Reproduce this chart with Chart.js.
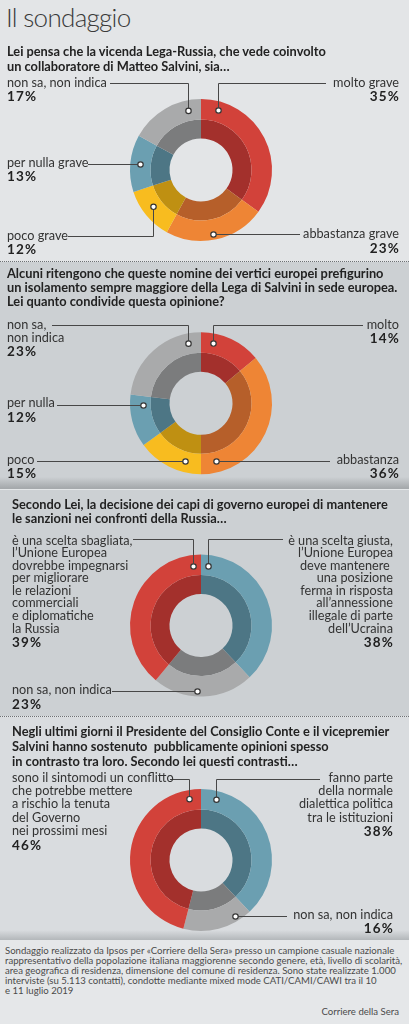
<!DOCTYPE html>
<html>
<head>
<meta charset="utf-8">
<script src="https://cdn.jsdelivr.net/npm/chart.js@4.4.1/dist/chart.umd.min.js"></script>
<style>
  body { margin: 0; width: 409px; height: 1024px; position: relative; overflow: hidden; background: #e4e6e8; font-family: Lato, "Noto Sans", sans-serif; color: #2a2a2a; }
  .bg { position: absolute; left: 0; width: 409px; }
  .dots { position: absolute; left: 0; width: 409px; height: 0; border-top: 1px dotted #6d7174; }
  canvas { position: absolute; left: 0; z-index: 1; }
  .title { position: absolute; left: 6px; top: 2px; font-weight: 300; font-size: 26px; letter-spacing: -0.7px; line-height: 30px; color: #3a3a3a; }
  .q { position: absolute; font-weight: 700; font-size: 12.8px; line-height: 14px; color: #222; white-space: pre; z-index: 2; }
  .lbl { position: absolute; font-size: 12.7px; color: #333; white-space: pre; z-index: 2; }
  .pct { position: absolute; font-weight: 700; font-size: 13.5px; letter-spacing: 1.2px; line-height: 15px; color: #222; z-index: 2; }
  .foot { position: absolute; left: 5px; top: 946px; font-size: 9.6px; line-height: 10px; color: #4b4b4b; white-space: pre; }
  .src { position: absolute; right: 10px; top: 1006px; font-size: 9.6px; color: #4b4b4b; }
</style>
</head>
<body>
<div class="bg" style="top:0;height:261px;background:#e3e5e7"></div>
<div class="dots" style="top:261px"></div>
<div class="bg" style="top:262px;height:227px;background:linear-gradient(to bottom,#ccd0d3 0,#ccd0d3 215px,#a5a9ac 226px)"></div>
<div class="bg" style="top:489px;height:1px;background:#e4e7e9"></div>
<div class="bg" style="top:490px;height:226px;background:#ccd0d3"></div>
<div class="dots" style="top:716px"></div>
<div class="bg" style="top:717px;height:223px;background:linear-gradient(to bottom,#d9dcdf 0,#d9dcdf 213px,#b3b7ba 223px)"></div>
<div class="bg" style="top:940px;height:84px;background:#e5e7e9"></div>

<div class="title">Il sondaggio</div>
<div class="q" style="left:7px;top:44px;line-height:15px">Lei pensa che la vicenda Lega-Russia, che vede coinvolto
un collaboratore di Matteo Salvini, sia…</div>
<div class="q" style="left:7px;top:267px;line-height:13.9px">Alcuni ritengono che queste nomine dei vertici europei prefigurino
un isolamento sempre maggiore della Lega di Salvini in sede europea.
Lei quanto condivide questa opinione?</div>
<div class="q" style="left:12px;top:497px;line-height:14.3px">Secondo Lei, la decisione dei capi di governo europei di mantenere
le sanzioni nei confronti della Russia…</div>
<div class="q" style="left:12px;top:724px;line-height:15px">Negli ultimi giorni il Presidente del Consiglio Conte e il vicepremier
Salvini hanno sostenuto  pubblicamente opinioni spesso
in contrasto tra loro. Secondo lei questi contrasti…</div>

<canvas id="c1" width="409" height="261" style="top:0"></canvas>
<canvas id="c2" width="409" height="227" style="top:262px"></canvas>
<canvas id="c3" width="409" height="227" style="top:489px"></canvas>
<canvas id="c4" width="409" height="222" style="top:717px"></canvas>

<div class="foot">Sondaggio realizzato da Ipsos per «Corriere della Sera» presso un campione casuale nazionale
rappresentativo della popolazione italiana maggiorenne secondo genere, età, livello di scolarità,
area geografica di residenza, dimensione del comune di residenza. Sono state realizzate 1.000
interviste (su 5.113 contatti), condotte mediante mixed mode CATI/CAMI/CAWI tra il 10
e 11 luglio 2019</div>
<div class="src">Corriere della Sera</div>

<script>
// dati (ordine in senso orario dalle ore 12)
const q1Labels = ['molto grave', 'abbastanza grave', 'poco grave', 'per nulla grave', 'non sa, non indica'];
const q1Values = [35, 23, 12, 13, 17];

const q2Labels = ['molto', 'abbastanza', 'poco', 'per nulla', 'non sa,\nnon indica'];
const q2Values = [14, 36, 15, 12, 23];

const q3Labels = [
    'è una scelta giusta,\nl’Unione Europea\ndeve mantenere \nuna posizione\nferma in risposta\nall’annessione\nillegale di parte\ndell’Ucraina',
    'non sa, non indica',
    'è una scelta sbagliata,\nl’Unione Europea\ndovrebbe impegnarsi\nper migliorare\nle relazioni\ncommerciali\ne diplomatiche\nla Russia'
];
const q3Values = [38, 23, 39];

const q4Labels = [
    'fanno parte\ndella normale\ndialettica politica\ntra le istituzioni',
    'non sa, non indica',
    'sono il sintomodi un conflitto\nche potrebbe mettere\na rischio la tenuta\ndel Governo\nnei prossimi mesi'
];
const q4Values = [38, 16, 46];

// colori
const red = ['#d2423a', '#a3302c'];
const orange = ['#ee8535', '#b65f2a'];
const yellow = ['#f8bc1f', '#bf9012'];
const blue = ['#6b9fb1', '#4d7685'];
const grey = ['#a9aaab', '#7b7c7d'];

// posizione etichette e linee (coordinate pagina)
const panels = [
    { id: 'c1', top: 0, cy: 170, labels: q1Labels, values: q1Values, colors: [red, orange, yellow, blue, grey], lh: 13.3,
      callouts: [
        { side: 'r', x: 399, ty: 83, lineX: 326, lineY: 83, frac: 0.13, r: 62 },
        { side: 'r', x: 399, ty: 234.5, lineX: 300, lineY: 234, frac: 0.52, r: 65 },
        { side: 'l', x: 7, ty: 236, lineX: 68, lineY: 236, frac: 0.55, r: 60.5 },
        { side: 'l', x: 7, ty: 163, lineX: 88, lineY: 163.5, frac: 0.51, r: 61 },
        { side: 'l', x: 7, ty: 83, lineX: 110, lineY: 83, frac: 0.80, r: 60.5 }
      ] },
    { id: 'c2', top: 262, cy: 403.3, labels: q2Labels, values: q2Values, colors: [red, orange, yellow, blue, grey], lh: 13.3,
      callouts: [
        { side: 'r', x: 399, ty: 325, lineX: 363, lineY: 324.5, frac: 0.23, r: 61 },
        { side: 'r', x: 399, ty: 460, lineX: 330, lineY: 460.5, frac: 0.886, r: 59.5 },
        { side: 'l', x: 7, ty: 460, lineX: 37, lineY: 460.5, frac: 0.285, r: 59.5 },
        { side: 'l', x: 7, ty: 403.5, lineX: 57, lineY: 404.5, frac: 0.80, r: 58.5 },
        { side: 'l', x: 7, ty: 325, lineX: 52, lineY: 324.5, frac: 0.855, r: 61 }
      ] },
    { id: 'c3', top: 489, cy: 625.5, labels: q3Labels, values: q3Values, colors: [blue, grey, red], lh: 12.6,
      callouts: [
        { side: 'r', x: 393, ty: 541, lineX: 283, lineY: 538.5, frac: 0.05, r: 59.5 },
        { side: 'l', x: 12, ty: 690.7, lineX: 112, lineY: 691, frac: 0.56, r: 65.5 },
        { side: 'l', x: 12, ty: 541, lineX: 133, lineY: 538.5, frac: 0.947, r: 59.5 }
      ] },
    { id: 'c4', top: 717, cy: 860, labels: q4Labels, values: q4Values, colors: [blue, grey, red], lh: 13.3,
      callouts: [
        { side: 'r', x: 393, ty: 778.3, lineX: 320, lineY: 778.5, frac: 0.10, r: 62 },
        { side: 'r', x: 393, ty: 915, lineX: 287, lineY: 916, frac: 0.21, r: 65.5 },
        { side: 'l', x: 12, ty: 778.3, lineX: 170, lineY: 778.5, frac: 0.932, r: 62 }
      ] }
];

const R = 71;        // raggio esterno
const CX = 201;      // centro orizzontale delle ciambelle

const leaderLines = {
    id: 'leaderLines',
    afterDatasetsDraw(chart, args, opts) {
        const ctx = chart.ctx;
        const meta = chart.getDatasetMeta(0);
        opts.callouts.forEach((c, i) => {
            const arc = meta.data[i];
            const p = arc.getProps(['x', 'y', 'startAngle', 'endAngle'], true);
            const a = p.startAngle + (p.endAngle - p.startAngle) * c.frac;
            let dx = Math.round(p.x + Math.cos(a) * c.r) + 0.5;
            let dy = p.y + Math.sin(a) * c.r;
            const ly = Math.round(c.lineY - opts.top) + 0.5;
            if (Math.abs(dy - ly) < 4) dy = ly;
            ctx.save();
            ctx.strokeStyle = '#474747';
            ctx.lineWidth = 1;
            ctx.beginPath();
            ctx.moveTo(c.lineX, ly);
            ctx.lineTo(dx, ly);
            ctx.lineTo(dx, dy);
            ctx.stroke();
            ctx.beginPath();
            ctx.arc(dx, dy, 2.7, 0, Math.PI * 2);
            ctx.fillStyle = '#fff';
            ctx.fill();
            ctx.lineWidth = 1.2;
            ctx.strokeStyle = '#333';
            ctx.stroke();
            ctx.restore();
        });
    }
};

panels.forEach(function (p) {
    const canvas = document.getElementById(p.id);
    const h = canvas.height;
    const padTop = p.cy - R - p.top;
    new Chart(canvas.getContext('2d'), {
        type: 'doughnut',
        data: {
            labels: p.labels,
            datasets: [{
                data: p.values,
                backgroundColor: p.colors.map(c => c[0]),
                borderWidth: 0,
                weight: 20.5
            }, {
                data: p.values,
                backgroundColor: p.colors.map(c => c[1]),
                borderWidth: 0,
                weight: 19
            }]
        },
        options: {
            responsive: false,
            animation: false,
            events: [],
            cutout: '44.4%',
            layout: {
                padding: { left: CX - R, right: 409 - CX - R, top: padTop, bottom: h - padTop - 2 * R }
            },
            plugins: {
                legend: { display: false },
                tooltip: { enabled: false },
                leaderLines: { callouts: p.callouts, top: p.top }
            }
        },
        plugins: [leaderLines]
    });

    // etichette
    p.callouts.forEach((c, i) => {
        const lines = p.labels[i].split('\n');
        const lbl = document.createElement('div');
        lbl.className = 'lbl';
        lbl.style.lineHeight = p.lh + 'px';
        lbl.style.top = (c.ty - 7.5) + 'px';
        lbl.textContent = p.labels[i];
        const pct = document.createElement('div');
        pct.className = 'pct';
        pct.style.top = (c.ty + (lines.length - 1) * p.lh + 14 - 8) + 'px';
        pct.textContent = p.values[i] + '%';
        if (c.side === 'r') {
            lbl.style.right = (409 - c.x) + 'px';
            lbl.style.textAlign = 'right';
            pct.style.right = (409 - c.x - 1) + 'px';
        } else {
            lbl.style.left = c.x + 'px';
            pct.style.left = c.x + 'px';
        }
        document.body.appendChild(lbl);
        document.body.appendChild(pct);
    });
});
</script>
</body>
</html>
